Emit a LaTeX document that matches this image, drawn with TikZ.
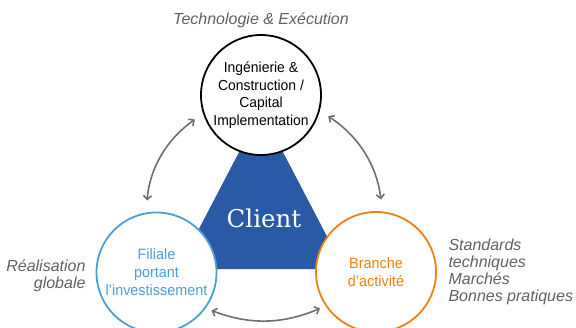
\documentclass[tikz,border=0pt]{standalone}
\usepackage{fontspec}
\setmainfont{Liberation Sans}
\newfontfamily\condfont[FakeStretch=0.96]{Liberation Sans}
\newfontfamily\clientfont{DejaVu Serif}
\usetikzlibrary{arrows.meta}
\definecolor{clientblue}{HTML}{2A5AA6}
\definecolor{filblue}{HTML}{4A9FD8}
\definecolor{branchorange}{HTML}{EE8112}
\definecolor{notegray}{HTML}{616161}
\definecolor{arrowgray}{HTML}{6E6E6E}

\begin{document}
\begin{tikzpicture}[
    x=1pt, y=1pt,
    ring/.style={circle, minimum size=120pt, inner sep=0pt, line width=1.8pt, fill=white, align=center},
    note/.style={font=\itshape\fontsize{16}{17}\selectfont, text=notegray},
    arrow/.style={<->, >={Straight Barb[length=4pt,width=8pt]}, line width=1.6pt, draw=arrowgray},
]
\useasboundingbox (0,0) rectangle (576,327);

% Client triangle (behind the rings)
\fill[clientblue] (261,217) -- (178,58) -- (344,58) -- cycle;
\node[text=white, font=\clientfont\fontsize{24.5}{27}\selectfont] (client) at (264,109) {Client};

% Rings
\node[ring, draw=black, font=\condfont\fontsize{14.5}{17.5}\selectfont] (eng) at (261,232)
    {Ingénierie \&\\ Construction /\\ Capital\\ Implementation};
\node[ring, draw=filblue, text=filblue, font=\condfont\fontsize{15}{18}\selectfont] (filiale) at (156.5,54.5)
    {Filiale\\ portant\\ l’investissement};
\node[ring, draw=branchorange, text=branchorange, font=\condfont\fontsize{15}{18}\selectfont] (branche) at (376,55)
    {Branche\\ d’activité};

% Side notes
\node[note] (tech) at (261,307) {Technologie \& Exécution};
\node[note, anchor=east, align=right] (real) at (89,51.5) {Réalisation\\ globale};
\node[note, anchor=west, align=left] (std) at (445,55.5) {Standards\\ techniques\\ Marchés\\ Bonnes pratiques};

% Arrows
\draw[arrow, shorten <=10pt, shorten >=12pt] (eng.198) to[bend right=25] (filiale.100);
\draw[arrow, shorten <=10pt, shorten >=12pt] (eng.345) to[bend left=25] (branche.84.5);
\draw[arrow, shorten <=6pt, shorten >=6pt] (filiale.324.6) to[bend right=22] (branche.214);
\end{tikzpicture}
\end{document}
